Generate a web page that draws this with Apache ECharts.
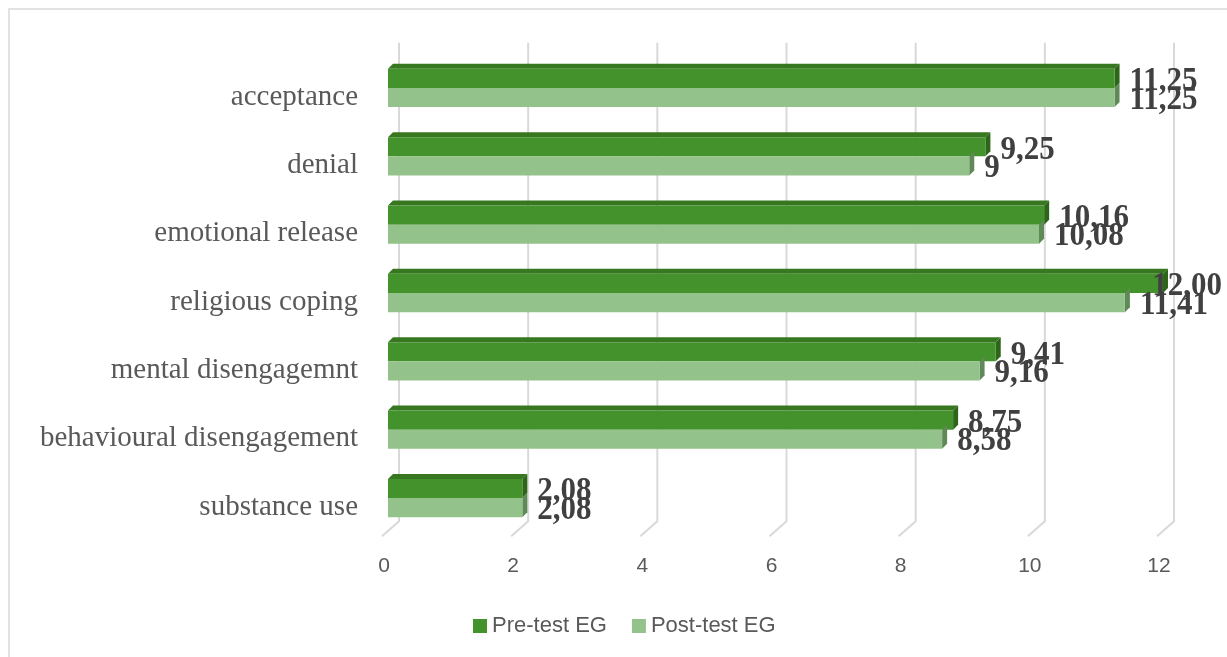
<!DOCTYPE html>
<html>
<head>
<meta charset="utf-8">
<script src="https://cdn.jsdelivr.net/npm/echarts@6/dist/echarts.min.js"></script>
<style>
  html, body { margin: 0; padding: 0; background: #ffffff; }
  #chart { width: 1227px; height: 657px; }
</style>
</head>
<body>
<div id="chart"></div>
<script>
// Coping strategy scores, written with comma decimals as in the source table
const categories = [
  'acceptance',
  'denial',
  'emotional release',
  'religious coping',
  'mental disengagemnt',
  'behavioural disengagement',
  'substance use'
];
const preTest  = ['11,25', '9,25', '10,16', '12,00', '9,41', '8,75', '2,08'];
const postTest = ['11,25', '9',    '10,08', '11,41', '9,16', '8,58', '2,08'];
const xTicks = [0, 2, 4, 6, 8, 10, 12];
const seriesNames = ['Pre-test EG', 'Post-test EG'];

const toNum = s => parseFloat(s.replace(',', '.'));

// 3D box look
const DEPTH = 5;          // px offset of the receding faces
const BAR_FRAC = 0.28;    // bar thickness as a share of the category band
const LABEL_FONT = 'bold 31px "Liberation Serif"';
const LABEL_GAP = 15;
const LABEL_RIGHT_LIMIT = 1222;

const measureCtx = document.createElement('canvas').getContext('2d');
function textWidth(t, font) { measureCtx.font = font; return measureCtx.measureText(t).width; }

function barRenderer(texts, colors, upper) {
  return function (params, api) {
    const v = api.value(0);
    const i = api.value(1);
    const p0 = api.coord([0, i]);
    const p1 = api.coord([v, i]);
    const bw = api.size([0, 1])[1];
    const h = bw * BAR_FRAC;
    const y0 = upper ? p0[1] - h : p0[1];
    const y1 = y0 + h;
    const x0 = p0[0], x1 = p1[0];
    const D = DEPTH;
    const children = [];
    if (upper) {
      children.push({
        type: 'polygon',
        shape: { points: [[x0, y0], [x0 + D, y0 - D], [x1 + D, y0 - D], [x1, y0]] },
        style: { fill: colors.top }
      });
    }
    children.push({
      type: 'polygon',
      shape: { points: [[x1, y0], [x1 + D, y0 - D], [x1 + D, y1 - D], [x1, y1]] },
      style: { fill: colors.side }
    });
    children.push({
      type: 'rect',
      shape: { x: x0, y: y0, width: x1 - x0, height: h },
      style: { fill: colors.front }
    });
    const txt = texts[params.dataIndex];
    const w = textWidth(txt, LABEL_FONT);
    const lx = Math.min(x1 + LABEL_GAP, LABEL_RIGHT_LIMIT - w);
    const ly = (y0 + y1) / 2 + (upper ? 3 : 2);
    children.push({
      type: 'text',
      x: lx, y: ly,
      scaleY: 1.12,
      z2: 100,
      style: {
        text: txt,
        font: LABEL_FONT,
        fill: '#404040',
        textAlign: 'left',
        textVerticalAlign: 'middle'
      }
    });
    return { type: 'group', children: children };
  };
}

function gridRenderer(params, api) {
  const v = api.value(0);
  const p = api.coord([v, 0]);
  const last = api.coord([v, categories.length - 1]);
  const bw = api.size([0, 1])[1];
  const topY = p[1] - bw / 2 - 11;
  const backBottom = last[1] + bw / 2 - 11;
  const floorFront = last[1] + bw / 2 + 4;
  return {
    type: 'polyline',
    shape: { points: [[p[0] + 11, topY], [p[0] + 11, backBottom], [p[0] - 6, floorFront]] },
    style: { stroke: '#d9d9d9', lineWidth: 2, fill: 'none' }
  };
}

const darkGreen = { front: '#43922c', top: '#37771f', side: '#2e6619' };
const lightGreen = { front: '#93c28a', top: '#7aa872', side: '#5f8a58' };

const chart = echarts.init(document.getElementById('chart'), null, { renderer: 'canvas' });
chart.setOption({
  animation: false,
  backgroundColor: '#ffffff',
  color: [darkGreen.front, lightGreen.front],
  graphic: [{
    type: 'rect',
    shape: { x: 9, y: 9, width: 1300, height: 700 },
    style: { fill: 'none', stroke: '#d9d9d9', lineWidth: 1.5 },
    silent: true
  }],
  grid: { left: 388, right: 64, top: 53.8, bottom: 124.8 },
  xAxis: {
    type: 'value',
    min: 0, max: 12, interval: 2,
    axisLine: { show: false },
    axisTick: { show: false },
    splitLine: { show: false },
    axisLabel: {
      margin: 24,
      color: '#595959',
      fontSize: 21,
      fontFamily: 'Liberation Sans',
      padding: [0, 8, 0, 0]
    }
  },
  yAxis: {
    type: 'category',
    data: categories,
    inverse: true,
    axisLine: { show: false },
    axisTick: { show: false },
    splitLine: { show: false },
    axisLabel: {
      margin: 30,
      color: '#595959',
      fontSize: 29,
      fontFamily: 'Liberation Serif',
      verticalAlign: 'top',
      lineHeight: 18
    }
  },
  legend: {
    data: seriesNames,
    icon: 'rect',
    itemWidth: 14,
    itemHeight: 14,
    itemGap: 25,
    left: 468,
    top: 610,
    textStyle: { color: '#595959', fontSize: 22, fontFamily: 'Liberation Sans' }
  },
  series: [
    {
      name: 'gridlines',
      type: 'custom',
      silent: true,
      z: 1,
      renderItem: gridRenderer,
      encode: { x: 0, y: 1 },
      data: xTicks.map(t => [t, 0])
    },
    {
      name: seriesNames[0],
      type: 'custom',
      z: 3,
      itemStyle: { color: darkGreen.front },
      renderItem: barRenderer(preTest, darkGreen, true),
      encode: { x: 0, y: 1 },
      data: preTest.map((s, i) => [toNum(s), i])
    },
    {
      name: seriesNames[1],
      type: 'custom',
      z: 3,
      itemStyle: { color: lightGreen.front },
      renderItem: barRenderer(postTest, lightGreen, false),
      encode: { x: 0, y: 1 },
      data: postTest.map((s, i) => [toNum(s), i])
    }
  ]
});
</script>
</body>
</html>
